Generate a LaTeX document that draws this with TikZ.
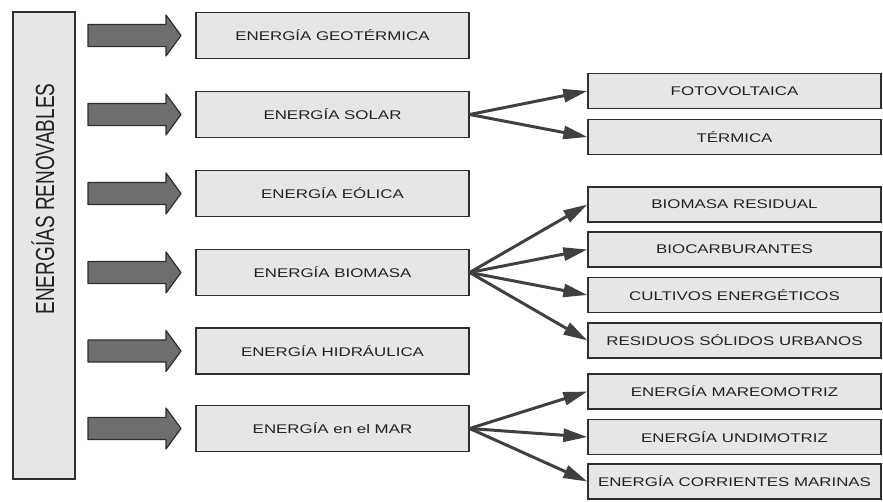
\documentclass[tikz,border=0pt]{standalone}
\usepackage{fontspec}
\usetikzlibrary{arrows.meta}
\newfontfamily\labfont[FakeStretch=1.34]{Liberation Sans}
\newfontfamily\plainlab{Liberation Sans}
\definecolor{boxfill}{HTML}{E6E6E6}
\definecolor{boxline}{HTML}{2E2E2E}
\definecolor{blockfill}{HTML}{6E6E6E}
\definecolor{conn}{HTML}{404040}
\definecolor{txt}{HTML}{222222}
\begin{document}
\begin{tikzpicture}[x=1pt,y=-1pt,
  basebox/.style={draw=boxline,fill=boxfill,line width=1.3pt,inner sep=0pt,text=txt,
    font=\labfont\fontsize{12.6}{14}\selectfont},
  midbox/.style={basebox,minimum width=273pt,minimum height=46pt},
  subbox/.style={basebox,minimum width=293pt,minimum height=35pt},
  conn/.style={draw=conn,line width=3pt,-{Triangle[length=24pt,width=13pt]}},
  blockarrow/.style={draw=boxline,fill=blockfill,line width=1.2pt,line join=round}]
\useasboundingbox (0,0) rectangle (883,502);
% left box
\node[basebox,minimum width=62pt,minimum height=467pt] (root) at (44,245.5) {};
\node[rotate=90,text=txt,inner sep=0pt] (rootlabel) at (43,199)
  {\scalebox{1}[1.38]{\plainlab\fontsize{19}{21}\selectfont ENERGÍAS RENOVABLES}};
% block arrows
\foreach \c/\n in {35.5/a1,114.5/a2,193.5/a3,272.5/a4,351/a5,428.5/a6}{
  \draw[blockarrow] (88,\c-11) -- (166,\c-11) -- (166,\c-20.5) -- (181,\c)
     -- (166,\c+20.5) -- (166,\c+11) -- (88,\c+11) -- cycle;
}
% middle boxes
\node[midbox] (geo) at (332.5,35.5) {ENERGÍA GEOTÉRMICA};
\node[midbox] (solar) at (332.5,114.5) {ENERGÍA SOLAR};
\node[midbox] (eolica) at (332.5,193.5) {ENERGÍA EÓLICA};
\node[midbox] (bio) at (332.5,272.5) {ENERGÍA BIOMASA};
\node[midbox] (hidro) at (332.5,351) {ENERGÍA HIDRÁULICA};
\node[midbox] (mar) at (332.5,428.5) {ENERGÍA en el MAR};
% right boxes
\node[subbox] (foto) at (734.5,91) {FOTOVOLTAICA};
\node[subbox] (term) at (734.5,137) {TÉRMICA};
\node[subbox] (bres) at (734.5,204.5) {BIOMASA RESIDUAL};
\node[subbox] (bcar) at (734.5,249.5) {BIOCARBURANTES};
\node[subbox] (cult) at (734.5,295) {CULTIVOS ENERGÉTICOS};
\node[subbox] (rsu) at (734.5,340.5) {RESIDUOS SÓLIDOS URBANOS};
\node[subbox] (mare) at (734.5,391.5) {ENERGÍA MAREOMOTRIZ};
\node[subbox] (undi) at (734.5,437) {ENERGÍA UNDIMOTRIZ};
\node[subbox] (corr) at (734.5,481.5) {ENERGÍA CORRIENTES MARINAS};
% connectors
\foreach \t in {foto,term}{\draw[conn] (solar.east) -- (\t.west);}
\foreach \t in {bres,bcar,cult,rsu}{\draw[conn] (bio.east) -- (\t.west);}
\foreach \t in {mare,undi,corr}{\draw[conn] (mar.east) -- (\t.west);}
\end{tikzpicture}
\end{document}
